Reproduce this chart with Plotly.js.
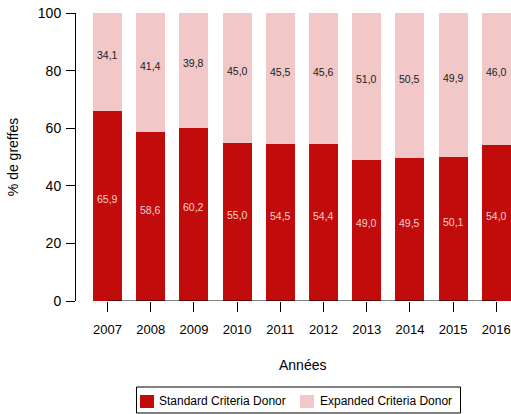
<!DOCTYPE html>
<html><head><meta charset="utf-8">
<script src="https://cdn.plot.ly/plotly-3.0.1.min.js"></script>
<style>html,body{margin:0;padding:0;background:#fff}#chart{width:511px;height:414px}</style>
</head><body><div id="chart"></div>
<script>
const years = ["2007","2008","2009","2010","2011","2012","2013","2014","2015","2016"];
const standard = [65.9, 58.6, 60.2, 55.0, 54.5, 54.4, 49.0, 49.5, 50.1, 54.0];
const expanded = [34.1, 41.4, 39.8, 45.0, 45.5, 45.6, 51.0, 50.5, 49.9, 46.0];
const seriesNames = ["Standard Criteria Donor", "Expanded Criteria Donor"];

const xs = years.map((y,i)=>i);
const fmt = v => v.toFixed(1).replace('.', ',');
const FONT = "Liberation Sans, Arial, Helvetica, sans-serif";
const RED = "#c20c0c", PINK = "#f1c7c7";

const traces = [
  {type:'bar', x:xs, y:standard, name:seriesNames[0], width:0.67,
   marker:{color:RED, line:{width:0}}, hoverinfo:'skip', showlegend:false},
  {type:'bar', x:xs, y:expanded, name:seriesNames[1], width:0.67,
   marker:{color:PINK, line:{width:0}}, hoverinfo:'skip', showlegend:false}
];

// pixel -> paper helpers (plot area: left 76, width 435; bottom 301, height 288)
const L=76, W=435, B=301, H=288;
const px = p => (p-L)/W;
const py = p => (B-p)/H;

const annotations = [];
xs.forEach((x,i)=>{
  annotations.push({x:x, y:standard[i]/2, xref:'x', yref:'y', text:fmt(standard[i]), showarrow:false,
    yshift:7, font:{family:FONT, size:10.5, color:'#f3d0d0'}});
  annotations.push({x:x, y:standard[i]+expanded[i]/2, xref:'x', yref:'y', text:fmt(expanded[i]), showarrow:false,
    yshift:7, font:{family:FONT, size:10.5, color:'#222'}});
});
annotations.push({xref:'paper', yref:'paper', x:px(302), y:py(365), xanchor:'center', yanchor:'middle',
  text:'Années', showarrow:false, font:{family:FONT, size:14, color:'#000'}});
// legend texts
annotations.push({xref:'paper', yref:'paper', x:px(157), y:py(401), xanchor:'left', yanchor:'middle',
  text:seriesNames[0], showarrow:false, font:{family:FONT, size:12, color:'#000'}});
annotations.push({xref:'paper', yref:'paper', x:px(318), y:py(401), xanchor:'left', yanchor:'middle',
  text:seriesNames[1], showarrow:false, font:{family:FONT, size:12, color:'#000'}});

const shapes = [
  {type:'line', xref:'x', yref:'y', x0:xs[0], x1:xs[xs.length-1], y0:0, y1:0, line:{color:'#000', width:1}},
  {type:'rect', xref:'paper', yref:'paper', x0:px(136.5), x1:px(460.5), y0:py(413), y1:py(387),
    line:{color:'#000', width:1}, fillcolor:'rgba(0,0,0,0)'},
  {type:'rect', xref:'paper', yref:'paper', x0:px(140), x1:px(154), y0:py(408), y1:py(395),
    line:{width:0}, fillcolor:RED},
  {type:'rect', xref:'paper', yref:'paper', x0:px(300), x1:px(314), y0:py(408), y1:py(395),
    line:{width:0}, fillcolor:PINK}
];

const layout = {
  width:511, height:414,
  margin:{l:L, r:511-L-W, t:13, b:414-B},
  paper_bgcolor:'#fff', plot_bgcolor:'#fff',
  barmode:'stack',
  showlegend:false,
  font:{family:FONT, color:'#000'},
  xaxis:{range:[-0.729, 9.34], tickvals:xs, ticktext:years, showgrid:false, zeroline:false,
    showline:false, ticks:'outside', ticklen:10, tickcolor:'#000', tickwidth:1, automargin:false,
    tickfont:{family:FONT, size:13, color:'#000'}, ticklabelstandoff:6, fixedrange:true},
  yaxis:{range:[0,100], tickvals:[0,20,40,60,80,100], showgrid:false, zeroline:false,
    showline:true, linecolor:'#000', linewidth:1, ticks:'outside', ticklen:9, tickcolor:'#000',
    tickfont:{family:FONT, size:14, color:'#000'}, ticklabelstandoff:2, automargin:false,
    title:{text:'% de greffes', font:{family:FONT, size:14, color:'#000'}, standoff:15}},
  shapes:shapes,
  annotations:annotations
};
Plotly.newPlot('chart', traces, layout, {displayModeBar:false, staticPlot:true});
</script></body></html>
